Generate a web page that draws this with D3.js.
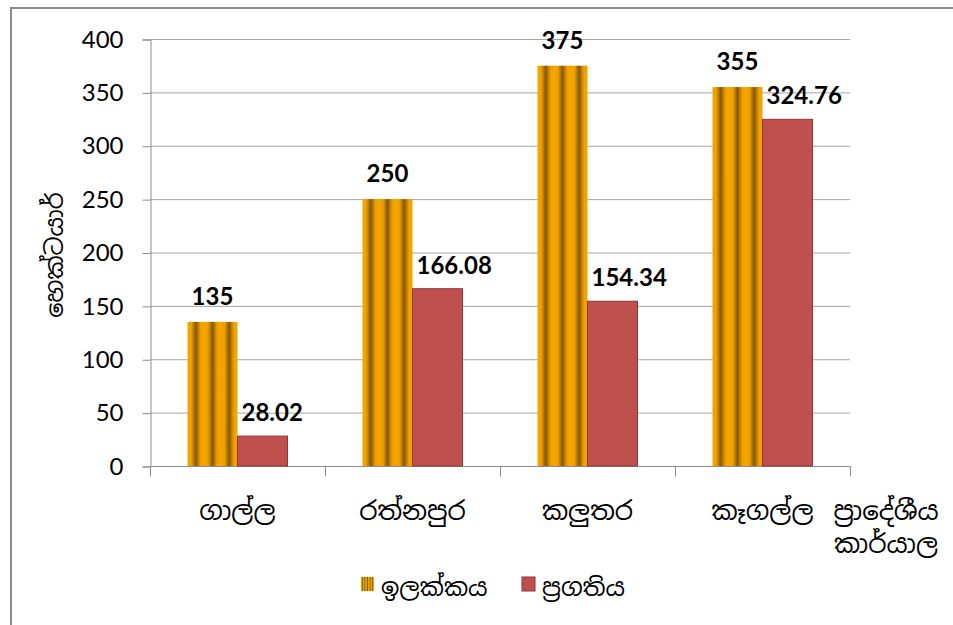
<!DOCTYPE html>
<html>
<head>
<meta charset="utf-8">
<script src="https://cdn.jsdelivr.net/npm/d3@7"></script>
<style>
  body { margin: 0; background: #fff; }
  svg { display: block; }
  .num { font-family: Lato, "Open Sans", sans-serif; }
  .si { font-family: "Noto Sans Sinhala", "Iskoola Pota", "Noto Sans", sans-serif; }
</style>
</head>
<body>
<div id="chart"></div>
<script>
// office names (x categories)
var offices = ["ගාල්ල", "රත්නපුර", "කලුතර", "කෑගල්ල"];
// series names
var seriesNames = ["ඉලක්කය", "ප්‍රගතිය"];
// hectares
var targetValues = [135, 250, 375, 355];
var progressValues = [28.02, 166.08, 154.34, 324.76];
var yTicks = [0, 50, 100, 150, 200, 250, 300, 350, 400];
var yTitle = "හෙක්ටයාර්";
var xTitle = ["ප්‍රාදේශීය", "කාර්යාල"];

var width = 953, height = 625;

var svg = d3.select("#chart")
  .append("svg")
    .attr("width", width)
    .attr("height", height);

var defs = svg.append("defs");

// orange/brown vertical stripes
var grad = defs.append("linearGradient")
    .attr("id", "stripeGrad")
    .attr("x1", "0").attr("x2", "1").attr("y1", "0").attr("y2", "0");
grad.append("stop").attr("offset", "0%").attr("stop-color", "#f5a600");
grad.append("stop").attr("offset", "22%").attr("stop-color", "#f0a000");
grad.append("stop").attr("offset", "50%").attr("stop-color", "#845800");
grad.append("stop").attr("offset", "78%").attr("stop-color", "#f0a000");
grad.append("stop").attr("offset", "100%").attr("stop-color", "#f5a600");

function stripes(id, n) {
  var p = defs.append("pattern")
      .attr("id", id)
      .attr("patternUnits", "objectBoundingBox")
      .attr("patternContentUnits", "objectBoundingBox")
      .attr("width", 1 / n).attr("height", 1);
  p.append("rect")
      .attr("width", 1 / n).attr("height", 1)
      .attr("fill", "url(#stripeGrad)");
}
stripes("barStripes", 3);
stripes("keyStripes", 5);

var fills = ["url(#barStripes)", "#c0504d"];
var keyFills = ["url(#keyStripes)", "#c0504d"];

// frame
svg.append("path")
    .attr("d", "M11,625 L11,8 L953,8")
    .attr("fill", "none")
    .attr("stroke", "#8c8c8c")
    .attr("stroke-width", 2);

var x = d3.scaleBand()
    .domain(offices)
    .range([150, 850]);

var x1 = d3.scaleBand()
    .domain(seriesNames)
    .range([0, x.bandwidth()])
    .paddingOuter(0.75);

var y = d3.scaleLinear()
    .domain([0, 400])
    .range([466, 39]);

// grid
svg.append("g")
  .selectAll("line")
  .data(yTicks.slice(1))
  .enter()
    .append("line")
    .attr("x1", 150).attr("x2", 850)
    .attr("y1", function(d) { return y(d) + 0.5; })
    .attr("y2", function(d) { return y(d) + 0.5; })
    .attr("stroke", "#a6a6a6")
    .attr("stroke-width", 1);

// y axis
var yAxis = svg.append("g")
    .attr("transform", "translate(150.5,0.5)")
    .call(d3.axisLeft(y).tickValues(yTicks).tickSize(8).tickPadding(19));
yAxis.selectAll("line, path").attr("stroke", "#8c8c8c");
yAxis.selectAll("text")
    .attr("class", "num")
    .style("font-size", "24px")
    .attr("fill", "#000");

// x axis line + ticks at category boundaries
var xAxis = svg.append("g").attr("transform", "translate(0.5,0.5)");
xAxis.append("line")
    .attr("x1", 150).attr("x2", 850)
    .attr("y1", y(0)).attr("y2", y(0))
    .attr("stroke", "#8c8c8c");
xAxis.selectAll(".xt")
  .data(offices.concat([null]))
  .enter()
    .append("line")
    .attr("class", "xt")
    .attr("x1", function(d, i) { return i < offices.length ? x(d) : x.range()[1]; })
    .attr("x2", function(d, i) { return i < offices.length ? x(d) : x.range()[1]; })
    .attr("y1", y(0)).attr("y2", y(0) + 10)
    .attr("stroke", "#8c8c8c");

svg.append("g")
  .selectAll("text")
  .data(offices)
  .enter()
    .append("text")
    .attr("class", "si")
    .attr("x", function(d) { return x(d) + x.bandwidth() / 2; })
    .attr("y", 520)
    .attr("text-anchor", "middle")
    .style("font-size", "26px")
    .text(function(d) { return d; });

// bars
var rows = offices.map(function(o, i) {
  return { office: o, values: [targetValues[i], progressValues[i]] };
});

var groups = svg.append("g")
  .selectAll("g")
  .data(rows)
  .enter()
    .append("g")
    .attr("transform", function(d) { return "translate(" + x(d.office) + ",0)"; });

groups.selectAll("rect")
  .data(function(d) {
    return d.values.map(function(v, k) { return { s: seriesNames[k], k: k, v: v }; });
  })
  .enter()
    .append("rect")
    .attr("x", function(d) { return x1(d.s); })
    .attr("y", function(d) { return y(d.v); })
    .attr("width", x1.bandwidth())
    .attr("height", function(d) { return y(0) - y(d.v); })
    .attr("fill", function(d) { return fills[d.k]; })
    .attr("stroke", function(d) { return d.k == 1 ? "#8c3836" : "none"; })
    .attr("stroke-width", 1);

// value labels
groups.selectAll("text")
  .data(function(d) {
    return d.values.map(function(v, k) { return { s: seriesNames[k], k: k, v: v }; });
  })
  .enter()
    .append("text")
    .attr("class", "num")
    .attr("x", function(d) {
      return d.k == 0 ? x1(d.s) + x1.bandwidth() / 2 : x1(d.s) + 4;
    })
    .attr("y", function(d) { return y(d.v) - (d.k == 0 ? 17 : 15); })
    .attr("text-anchor", function(d) { return d.k == 0 ? "middle" : "start"; })
    .style("font-size", "24px")
    .style("font-weight", "bold")
    .text(function(d) { return d.v; });

// y title
svg.append("text")
    .attr("class", "si")
    .attr("transform", "translate(63,255) rotate(-90)")
    .attr("text-anchor", "middle")
    .style("font-size", "24px")
    .text(yTitle);

// x title
svg.append("text")
    .attr("class", "si")
    .attr("text-anchor", "middle")
    .style("font-size", "26px")
  .selectAll("tspan")
  .data(xTitle)
  .enter()
    .append("tspan")
    .attr("x", 886)
    .attr("y", function(d, i) { return 520 + i * 33; })
    .text(function(d) { return d; });

// legend
var legendX = [361, 522];
var legend = svg.append("g")
  .selectAll("g")
  .data(seriesNames)
  .enter()
    .append("g")
    .attr("transform", function(d, i) { return "translate(" + legendX[i] + ",577)"; });

legend.append("rect")
    .attr("width", 13).attr("height", 14)
    .attr("fill", function(d, i) { return keyFills[i]; })
    .attr("stroke", function(d, i) { return i == 1 ? "#8c3836" : "none"; });

legend.append("text")
    .attr("class", "si")
    .attr("x", 20)
    .attr("y", 19)
    .style("font-size", "24px")
    .text(function(d) { return d; });
</script>
</body>
</html>
